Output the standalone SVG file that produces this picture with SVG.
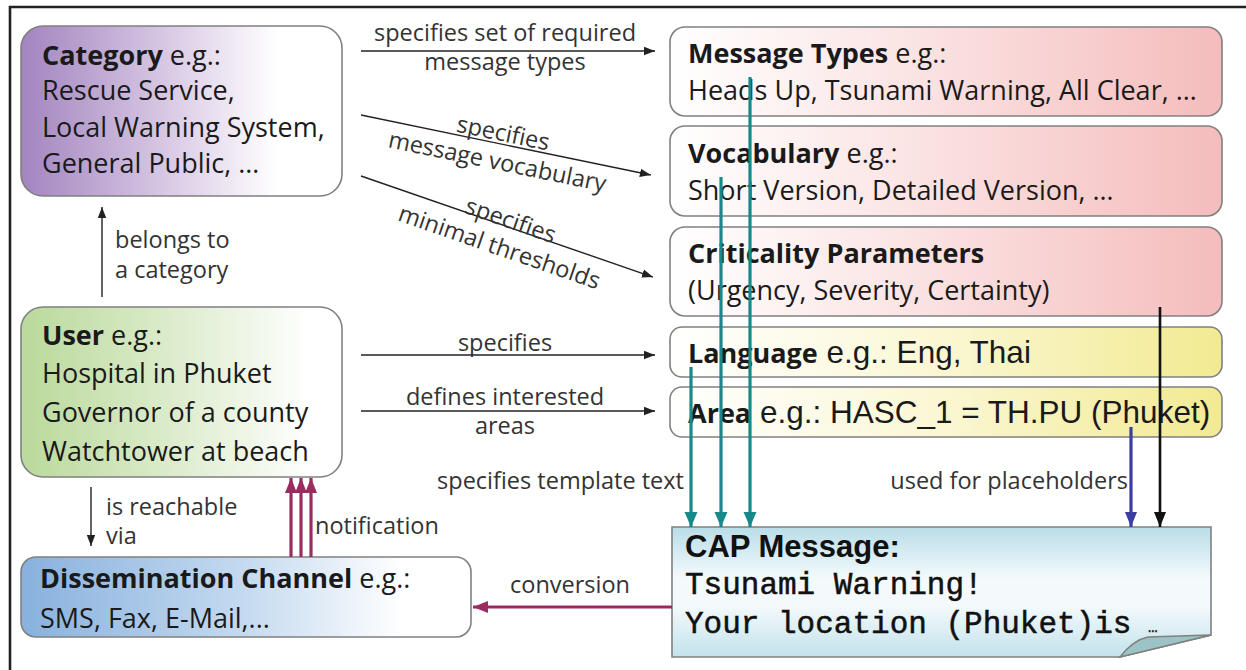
<svg xmlns="http://www.w3.org/2000/svg" width="1246" height="670" viewBox="0 0 1246 670">
<defs>
<style>
.node{stroke:#808080;stroke-width:1.6}
.t{font-family:"Open Sans","Noto Sans",sans-serif;font-size:27px;fill:#1a1a1a}
.b{font-weight:bold}
.ar{font-family:"Liberation Sans",Arial,sans-serif;font-size:31.5px}
.lbl{font-family:"Open Sans","Noto Sans",sans-serif;font-size:23.5px;fill:#333}
.thin{stroke:#222;stroke-width:1.4;fill:none}
.teal{stroke:#16898a;stroke-width:3.2;fill:none}
.pur{stroke:#9a2d60;stroke-width:3.2;fill:none}
.blue{stroke:#3b3ea0;stroke-width:3.2;fill:none}
.blk{stroke:#111;stroke-width:2.6;fill:none}
.cap{font-family:"Liberation Sans",Arial,sans-serif;font-weight:bold;font-size:31px;fill:#111}
.mono{font-family:"Liberation Mono","Courier New",monospace;font-size:31px;fill:#111;stroke:#111;stroke-width:0.5}
</style>
<linearGradient id="gPur" x1="0" y1="0" x2="1" y2="0"><stop offset="0" stop-color="#a284bf"/><stop offset="0.45" stop-color="#d8c8e4"/><stop offset="0.8" stop-color="#ffffff"/></linearGradient>
<linearGradient id="gGrn" x1="0" y1="0" x2="1" y2="0"><stop offset="0" stop-color="#bad99b"/><stop offset="0.5" stop-color="#deedcf"/><stop offset="0.9" stop-color="#ffffff"/></linearGradient>
<linearGradient id="gBlu" x1="0" y1="0" x2="1" y2="0"><stop offset="0" stop-color="#88b1de"/><stop offset="0.5" stop-color="#c5daf0"/><stop offset="0.85" stop-color="#ffffff"/></linearGradient>
<linearGradient id="gPnk" x1="0" y1="0" x2="1" y2="0"><stop offset="0" stop-color="#ffffff"/><stop offset="0.45" stop-color="#fbe3e3"/><stop offset="1" stop-color="#f5bcbc"/></linearGradient>
<linearGradient id="gYel" x1="0" y1="0" x2="1" y2="0"><stop offset="0" stop-color="#ffffff"/><stop offset="0.45" stop-color="#fbf8d8"/><stop offset="1" stop-color="#f2ea92"/></linearGradient>
<linearGradient id="gCap" x1="0" y1="0" x2="0" y2="1"><stop offset="0" stop-color="#b9dde8"/><stop offset="0.4" stop-color="#f4fafc"/><stop offset="0.6" stop-color="#f4fafc"/><stop offset="1" stop-color="#c3e2eb"/></linearGradient>
<marker id="mThin" markerUnits="userSpaceOnUse" markerWidth="12" markerHeight="10" refX="11" refY="5" orient="auto"><path d="M0,0.8 L11,5 L0,9.2 Z" fill="#222"/></marker>
<marker id="mTeal" markerUnits="userSpaceOnUse" markerWidth="16" markerHeight="14" refX="15" refY="7" orient="auto"><path d="M0,0.5 L15,7 L0,13.5 Z" fill="#16898a"/></marker>
<marker id="mPur" markerUnits="userSpaceOnUse" markerWidth="16" markerHeight="14" refX="15" refY="7" orient="auto"><path d="M0,1 L15,7 L0,13 Z" fill="#9a2d60"/></marker>
<marker id="mBlue" markerUnits="userSpaceOnUse" markerWidth="16" markerHeight="14" refX="15" refY="7" orient="auto"><path d="M0,1 L15,7 L0,13 Z" fill="#3b3ea0"/></marker>
<marker id="mBlk" markerUnits="userSpaceOnUse" markerWidth="16" markerHeight="14" refX="15" refY="7" orient="auto"><path d="M0,1 L15,7 L0,13 Z" fill="#111"/></marker>
</defs>
<rect x="0" y="0" width="1246" height="670" fill="#ffffff"/>
<path d="M10,672 V7 H1248" fill="none" stroke="#222" stroke-width="2.6"/>

<g id="category">
<rect class="node" x="21" y="26" width="321" height="170" rx="22" fill="url(#gPur)"/>
<text class="t" x="42" y="65"><tspan class="b">Category</tspan> e.g.:</text>
<text class="t" x="42" y="100">Rescue Service,</text>
<text class="t" x="42" y="137">Local Warning System,</text>
<text class="t" x="42" y="173">General Public, …</text>
</g>
<g id="user">
<rect class="node" x="21" y="307" width="321" height="170" rx="22" fill="url(#gGrn)"/>
<text class="t" x="42" y="345"><tspan class="b">User</tspan> e.g.:</text>
<text class="t" x="42" y="383">Hospital in Phuket</text>
<text class="t" x="42" y="422">Governor of a county</text>
<text class="t" x="42" y="461">Watchtower at beach</text>
</g>
<g id="dissemination">
<rect class="node" x="21" y="557" width="450" height="80" rx="15" fill="url(#gBlu)"/>
<text class="t" x="40" y="588"><tspan class="b">Dissemination Channel</tspan> e.g.:</text>
<text class="t" x="40" y="628">SMS, Fax, E-Mail,...</text>
</g>
<g id="messagetypes">
<rect class="node" x="670" y="27" width="552" height="89" rx="15" fill="url(#gPnk)"/>
<text class="t" x="688" y="63"><tspan class="b">Message Types</tspan> e.g.:</text>
<text class="t" x="688" y="100">Heads Up, Tsunami Warning, All Clear, …</text>
</g>
<g id="vocabulary">
<rect class="node" x="670" y="126" width="552" height="90" rx="15" fill="url(#gPnk)"/>
<text class="t" x="688" y="163"><tspan class="b">Vocabulary</tspan> e.g.:</text>
<text class="t" x="688" y="200">Short Version, Detailed Version, …</text>
</g>
<g id="criticality">
<rect class="node" x="670" y="227" width="552" height="89" rx="15" fill="url(#gPnk)"/>
<text class="t" x="688" y="263"><tspan class="b">Criticality Parameters</tspan></text>
<text class="t" x="688" y="300">(Urgency, Severity, Certainty)</text>
</g>
<g id="language">
<rect class="node" x="670" y="327" width="552" height="50" rx="12" fill="url(#gYel)"/>
<text class="t" x="688" y="363"><tspan class="b">Language</tspan><tspan class="ar"> e.g.: Eng, Thai</tspan></text>
</g>
<g id="area">
<rect class="node" x="670" y="387" width="552" height="50" rx="12" fill="url(#gYel)"/>
<text class="t" x="688" y="423"><tspan class="b">Area</tspan><tspan class="ar"> e.g.: HASC_1 = TH.PU (Phuket)</tspan></text>
</g>
<g id="capmessage">
<path class="node" d="M672,527 H1211 V635 L1120,657 H672 Z" fill="url(#gCap)"/>
<path d="M1120,657 Q1133,640 1148,637 L1211,635 Z" fill="#9cc4c7" stroke="#808080" stroke-width="1.4"/>
<text class="cap" x="685" y="557">CAP Message:</text>
<text class="mono" x="685" y="594">Tsunami Warning!</text>
<text class="mono" x="685" y="633">Your location (Phuket)is</text>
<text class="mono" x="1148" y="632" style="font-size:16px;stroke-width:0.3">…</text>
</g>

<g id="connectors">
<line class="thin" x1="361" y1="51" x2="655" y2="51" marker-end="url(#mThin)"/>
<text class="lbl" x="505" y="41" text-anchor="middle">specifies set of required</text>
<text class="lbl" x="505" y="70" text-anchor="middle">message types</text>
<g transform="translate(361,115) rotate(11.7)">
<line class="thin" x1="0" y1="0" x2="296" y2="0" marker-end="url(#mThin)"/>
<text class="lbl" x="143" y="-3" text-anchor="middle">specifies</text>
<text class="lbl" x="143" y="26" text-anchor="middle">message vocabulary</text>
</g>
<g transform="translate(361,176) rotate(19.1)">
<line class="thin" x1="0" y1="0" x2="309" y2="0" marker-end="url(#mThin)"/>
<text class="lbl" x="156" y="1" text-anchor="middle">specifies</text>
<text class="lbl" x="154" y="30" text-anchor="middle">minimal thresholds</text>
</g>
<line class="thin" x1="102" y1="297" x2="102" y2="207" marker-end="url(#mThin)"/>
<text class="lbl" x="115" y="248">belongs to</text>
<text class="lbl" x="115" y="278">a category</text>
<line class="thin" x1="361" y1="355" x2="655" y2="355" marker-end="url(#mThin)"/>
<text class="lbl" x="505" y="351" text-anchor="middle">specifies</text>
<line class="thin" x1="361" y1="411" x2="655" y2="411" marker-end="url(#mThin)"/>
<text class="lbl" x="505" y="405" text-anchor="middle">defines interested</text>
<text class="lbl" x="505" y="434" text-anchor="middle">areas</text>
<line class="thin" x1="91" y1="487" x2="91" y2="546" marker-end="url(#mThin)"/>
<text class="lbl" x="106" y="515">is reachable</text>
<text class="lbl" x="106" y="544">via</text>
<line class="pur" x1="291" y1="557" x2="291" y2="478" marker-end="url(#mPur)"/>
<line class="pur" x1="301" y1="557" x2="301" y2="478" marker-end="url(#mPur)"/>
<line class="pur" x1="311" y1="557" x2="311" y2="478" marker-end="url(#mPur)"/>
<text class="lbl" x="315" y="534">notification</text>
<line class="pur" x1="672" y1="607" x2="473" y2="607" marker-end="url(#mPur)"/>
<text class="lbl" x="570" y="593" text-anchor="middle">conversion</text>
<line class="teal" x1="750" y1="77" x2="750" y2="527" marker-end="url(#mTeal)"/>
<line class="teal" x1="721" y1="177" x2="721" y2="527" marker-end="url(#mTeal)"/>
<line class="teal" x1="691" y1="367" x2="691" y2="527" marker-end="url(#mTeal)"/>
<text class="lbl" x="684" y="489" text-anchor="end">specifies template text</text>
<line class="blue" x1="1131" y1="427" x2="1131" y2="527" marker-end="url(#mBlue)"/>
<text class="lbl" x="1128" y="489" text-anchor="end">used for placeholders</text>
<line class="blk" x1="1160" y1="307" x2="1160" y2="527" marker-end="url(#mBlk)"/>
</g>
</svg>
